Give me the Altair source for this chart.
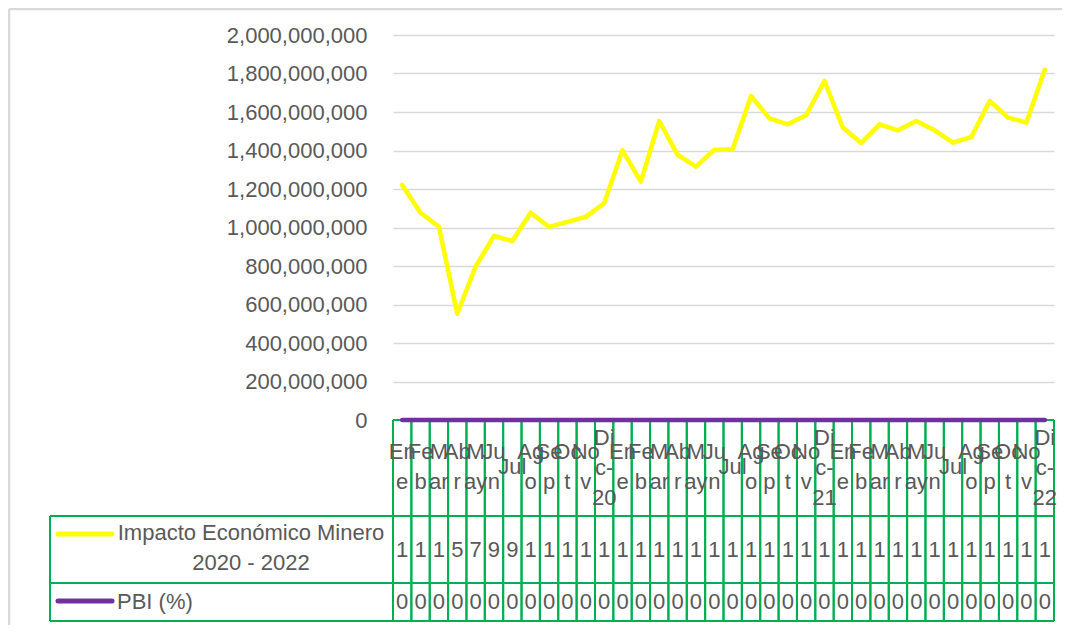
import altair as alt
import pandas as pd

meses = ["Ene", "Feb", "Mar", "Abr", "May", "Jun", "Jul", "Ago", "Sep", "Oct", "Nov", "Dic-20",
         "Ene", "Feb", "Mar", "Abr", "May", "Jun", "Jul", "Ago", "Sep", "Oct", "Nov", "Dic-21",
         "Ene", "Feb", "Mar", "Abr", "May", "Jun", "Jul", "Ago", "Sep", "Oct", "Nov", "Dic-22"]

# category labels as Excel wraps them in the narrow data-table cells
etiquetas = ["En\ne", "Fe\nb", "M\nar", "Ab\nr", "M\nay", "Ju\nn", "Jul", "Ag\no", "Se\np", "Oc\nt", "No\nv", "Di\nc-\n20",
             "En\ne", "Fe\nb", "M\nar", "Ab\nr", "M\nay", "Ju\nn", "Jul", "Ag\no", "Se\np", "Oc\nt", "No\nv", "Di\nc-\n21",
             "En\ne", "Fe\nb", "M\nar", "Ab\nr", "M\nay", "Ju\nn", "Jul", "Ag\no", "Se\np", "Oc\nt", "No\nv", "Di\nc-\n22"]

impacto = [1221000000, 1077000000, 1004000000, 552000000, 797000000, 956000000, 930000000, 1077000000,
           1003000000, 1029000000, 1055000000, 1126000000,
           1401000000, 1238000000, 1553000000, 1377000000, 1316000000, 1403000000, 1406000000, 1683000000,
           1567000000, 1536000000, 1583000000, 1761000000,
           1519000000, 1439000000, 1536000000, 1505000000, 1553000000, 1505000000, 1441000000, 1470000000,
           1657000000, 1571000000, 1545000000, 1820000000]

pbi = [0, 0, 0, 0, 0, 0, 0, 0, 0, 0, 0, 0,
       0, 0, 0, 0, 0, 0, 0, 0, 0, 0, 0, 0,
       0, 0, 0, 0, 0, 0, 0, 0, 0, 0, 0, 0]

serie1 = "Impacto Económico Minero\n2020 - 2022"
serie2 = "PBI (%)"
y_ticks = [0, 200000000, 400000000, 600000000, 800000000, 1000000000,
           1200000000, 1400000000, 1600000000, 1800000000, 2000000000]

df = pd.DataFrame({
    "i": list(range(len(meses))),
    "mes": meses,
    "etq": etiquetas,
    "impacto": impacto,
    "pbi": pbi,
})
df["t_imp"] = [str(v)[0] for v in impacto]
df["t_pbi"] = [str(v)[0] for v in pbi]
df["nl"] = [e.count("\n") + 1 for e in etiquetas]

W, H = 661, 385
FONT = "Liberation Sans"
FS = 22
TXT = "#595959"
GREEN = "#00B050"
YELLOW = "#FFFF00"
PURPLE = "#7030A0"

xs = alt.Scale(domain=[-0.5, 35.5], nice=False, zero=False)
ys = alt.Scale(domain=[0, 2000000000], nice=False, zero=True)
X = alt.X("i:Q", scale=xs, axis=None)
YAX = alt.Axis(values=y_ticks, format=",.0f", ticks=False, domain=False,
               labelFont=FONT, labelFontSize=FS, labelColor=TXT, labelPadding=26,
               grid=True, gridColor="#D9D9D9", gridWidth=1.5)

base = alt.Chart(df)

line_imp = base.mark_line(color=YELLOW, strokeWidth=4.5, strokeCap="round", strokeJoin="round").encode(
    x=X,
    y=alt.Y("impacto:Q", scale=ys, title=None, axis=YAX),
)

line_pbi = base.mark_line(color=PURPLE, strokeWidth=4.5, strokeCap="round").encode(
    x=X,
    y=alt.Y("pbi:Q", scale=ys, title=None, axis=YAX),
)

# table cell borders (vertical), at category band edges
vleft = base.transform_calculate(b="datum.i - 0.5").mark_rule(color=GREEN, strokeWidth=2).encode(
    x=alt.X("b:Q", scale=xs, axis=None), y=alt.value(H), y2=alt.value(586))
vright = base.transform_calculate(b="datum.i + 0.5").mark_rule(color=GREEN, strokeWidth=2).encode(
    x=alt.X("b:Q", scale=xs, axis=None), y=alt.value(H), y2=alt.value(586))

one = alt.Chart(df.head(1))


def hline(y, x0=-343, x1=W):
    return one.mark_rule(color=GREEN, strokeWidth=2).encode(
        x=alt.value(x0), x2=alt.value(x1), y=alt.value(y))


h_top = hline(H, 0, W)
h1 = hline(481)
h2 = hline(548)
h3 = hline(586)
v_outer = one.mark_rule(color=GREEN, strokeWidth=2).encode(
    x=alt.value(-343), y=alt.value(481), y2=alt.value(586))


# table texts: category labels, vertically centred in the header cell
def cat_labels(n, y):
    return base.transform_filter(f"datum.nl == {n}").mark_text(
        font=FONT, fontSize=FS, color=TXT, lineBreak="\n", lineHeight=30,
        align="center", baseline="middle").encode(x=X, y=alt.value(y), text="etq:N")


lab1 = cat_labels(1, 432)
lab2 = cat_labels(2, 417)
lab3 = cat_labels(3, 403)

vals1 = base.mark_text(font=FONT, fontSize=FS, color=TXT, align="center", baseline="middle").encode(
    x=X, y=alt.value(515), text="t_imp:N")
vals2 = base.mark_text(font=FONT, fontSize=FS, color=TXT, align="center", baseline="middle").encode(
    x=X, y=alt.value(567), text="t_pbi:N")

# legend keys in the table
key1 = one.mark_rule(color=YELLOW, strokeWidth=5, strokeCap="round").encode(
    x=alt.value(-335), x2=alt.value(-281), y=alt.value(499))
key2 = one.mark_rule(color=PURPLE, strokeWidth=5, strokeCap="round").encode(
    x=alt.value(-335), x2=alt.value(-281), y=alt.value(566))
name1 = one.mark_text(font=FONT, fontSize=FS, color=TXT, lineBreak="\n", lineHeight=30,
                      align="center", baseline="middle").encode(
    x=alt.value(-142), y=alt.value(498), text=alt.value(serie1))
name2 = one.mark_text(font=FONT, fontSize=FS, color=TXT, align="left", baseline="middle").encode(
    x=alt.value(-276), y=alt.value(567), text=alt.value(serie2))

# outer chart frame (light gray)
frame_top = one.mark_rule(color="#D9D9D9", strokeWidth=2.5).encode(
    x=alt.value(-384), x2=alt.value(W + 10), y=alt.value(-26))
frame_left = one.mark_rule(color="#D9D9D9", strokeWidth=2.5).encode(
    x=alt.value(-384), y=alt.value(-26), y2=alt.value(600))

chart = alt.layer(
    frame_top, frame_left,
    line_imp, h_top, vleft, vright, h1, h2, h3, v_outer,
    lab1, lab2, lab3, vals1, vals2, key1, key2, name1, name2,
    line_pbi,
).properties(
    width=W, height=H,
    autosize=alt.AutoSizeParams(type="none"),
    padding={"left": 385, "top": 27, "right": 8, "bottom": 205},
).configure_view(stroke=None)

chart.save("out.html", embed_options={"renderer": "svg", "actions": False})
